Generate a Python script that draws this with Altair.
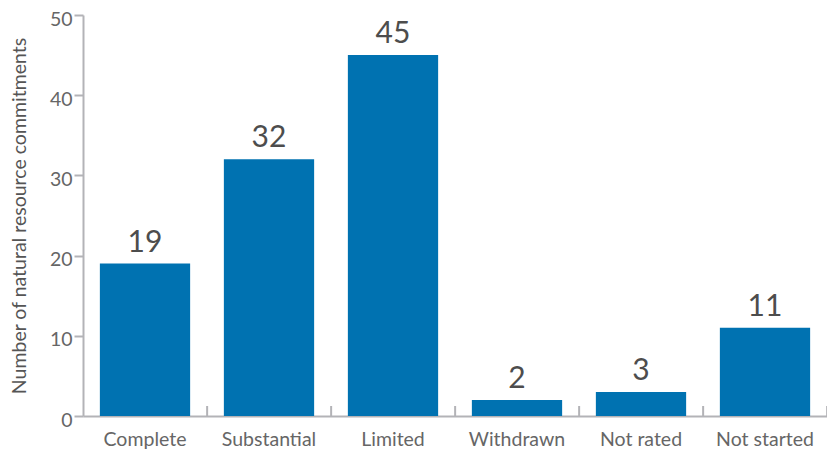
import altair as alt
import pandas as pd

categories = ["Complete", "Substantial", "Limited", "Withdrawn", "Not rated", "Not started"]
values = [19, 32, 45, 2, 3, 11]
y_ticks = [0, 10, 20, 30, 40, 50]

df = pd.DataFrame({"category": categories, "value": values})

W, H = 744, 401
BAR = "#0072B1"
AX = "#b3b3b7"
FONT = "Lato"

x_scale = alt.Scale(paddingInner=0.272, paddingOuter=0.136)
y_scale = alt.Scale(domain=[0, 50])

base = alt.Chart(df)

bars = base.mark_bar(color=BAR).encode(
    x=alt.X("category:N", sort=categories, scale=x_scale,
            axis=alt.Axis(title=None, labelAngle=0, ticks=False, domainColor=AX, domainWidth=2,
                          labelFontSize=19.5, labelColor="#666666", labelPadding=14, labelFont=FONT)),
    y=alt.Y("value:Q", scale=y_scale,
            axis=alt.Axis(values=y_ticks, grid=False, tickSize=9, tickColor=AX, tickWidth=2,
                          domainColor=AX, domainWidth=2, labelFontSize=19.5, labelColor="#666666",
                          labelPadding=2, labelFont=FONT, labelOffset=4,
                          title="Number of natural resource commitments", titleFontSize=19.5,
                          titleFontWeight="normal", titleColor="#555555", titleFont=FONT,
                          titlePadding=20)),
)

labels = base.mark_text(fontSize=30, color="#4d4d4d", font=FONT, baseline="alphabetic", dy=-12).encode(
    x=alt.X("category:N", sort=categories, scale=x_scale),
    y=alt.Y("value:Q", scale=y_scale),
    text=alt.Text("value:Q"),
)

xticks = base.mark_rule(color=AX, strokeWidth=2, xOffset=17).encode(
    x=alt.X("category:N", sort=categories, scale=x_scale, bandPosition=1),
    y=alt.value(H - 10),
    y2=alt.value(H),
)

chart = alt.layer(bars, labels, xticks).properties(
    width=W, height=H,
    autosize=alt.AutoSizeParams(type="none"),
    padding={"left": 75, "top": 7, "right": 0, "bottom": 35},
).configure_view(stroke=None)

chart.save("out.html", embed_options={"renderer": "svg", "actions": False})
